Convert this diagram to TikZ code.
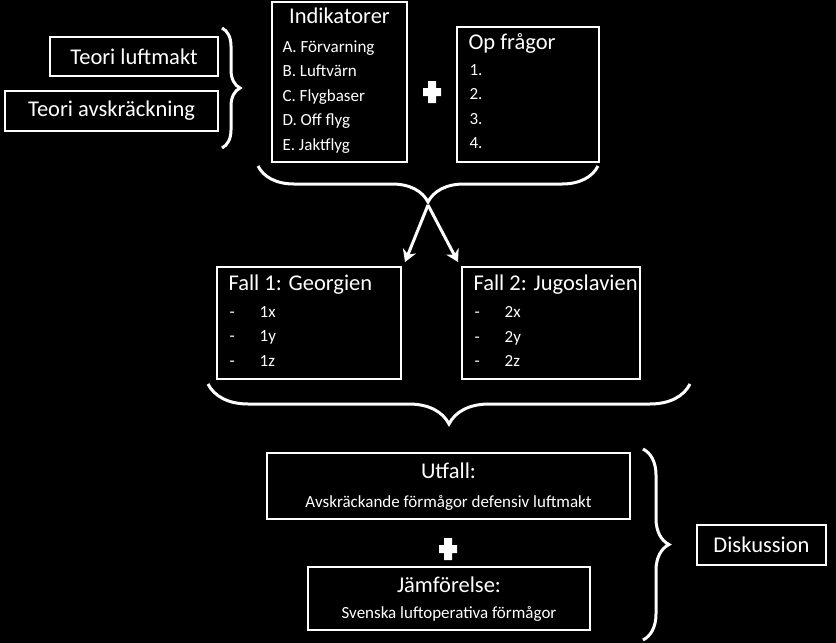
\documentclass[tikz,border=0pt]{standalone}
\usepackage{fontspec}
\setmainfont{Carlito}
\usetikzlibrary{decorations.pathreplacing,arrows.meta}
\begin{document}
\begin{tikzpicture}[x=1pt,y=-1pt,
  box/.style={draw=white,line width=1.6pt,fill=black,text=white},
  br/.style={draw=white,line width=3pt,decorate},
  big/.style={font=\fontsize{22.5}{26}\selectfont},
  sm/.style={font=\fontsize{17}{24.5}\selectfont},
  plus/.style={fill=white,draw=none}]
\fill[black] (0,0) rectangle (836,643);
\useasboundingbox (0,0) rectangle (836,643);
\node[box,big,minimum width=168pt,minimum height=39pt] (tl) at (134,56.5) {Teori luftmakt};
\node[box,big,minimum width=213pt,minimum height=40pt] (ta) at (111.5,111) {Teori avskräckning};
\draw[br,decoration={brace,amplitude=18pt}] (222,28) -- (222,148);
\node[box,minimum width=135pt,minimum height=160pt] (ind) at (339.5,82) {};
\node[big,text=white,anchor=north] (indt) at (339.5,4) {Indikatorer};
\node[sm,text=white,anchor=north west,align=left] (indl) at (279,37) {A. Förvarning\\B. Luftvärn\\C. Flygbaser\\D. Off flyg\\E. Jaktflyg};
\fill[white] (423,88) rectangle (441,96) (428,81) rectangle (436,103);
\node[box,minimum width=142pt,minimum height=135pt] (op) at (528,94.5) {};
\node[big,text=white,anchor=north west] (opt) at (465,30) {Op frågor};
\node[sm,text=white,anchor=north west,align=left] (opl) at (466,61) {1.\\2.\\3.\\4.};
\draw[br,decoration={brace,amplitude=36pt}] (598,166) -- (258,166);
\coordinate (t1) at (428,205);
\draw[white,line width=3pt,-{Stealth[length=12pt,width=14pt]}] (t1) -- (405,262);
\draw[white,line width=3pt,-{Stealth[length=12pt,width=14pt]}] (t1) -- (458,262);
\node[box,minimum width=184pt,minimum height=112pt] (f1) at (309,323) {};
\node[big,text=white,anchor=north west] (f1t) at (225,271) {Fall 1: Georgien};
\node[sm,text=white,anchor=north west,align=left] (f1l) at (226,303) {-\hspace{25pt}1x\\-\hspace{25pt}1y\\-\hspace{25pt}1z};
\node[box,minimum width=178pt,minimum height=112pt] (f2) at (551,323) {};
\node[big,text=white,anchor=north west] (f2t) at (470,271) {Fall 2: Jugoslavien};
\node[sm,text=white,anchor=north west,align=left] (f2l) at (471,303) {-\hspace{25pt}2x\\-\hspace{25pt}2y\\-\hspace{25pt}2z};
\draw[br,decoration={brace,amplitude=40pt}] (690,384) -- (208,384);
\node[box,minimum width=363pt,minimum height=66pt] (ut) at (448.5,486) {};
\node[big,text=white] (utt) at (448.5,471) {Utfall:};
\node[sm,text=white] (utl) at (448.5,503) {Avskräckande förmågor defensiv luftmakt};
\fill[white] (439,545) rectangle (457,553) (444,538) rectangle (452,560);
\node[box,minimum width=282pt,minimum height=63pt] (jm) at (449,598.5) {};
\node[big,text=white] (jmt) at (449,585) {Jämförelse:};
\node[sm,text=white] (jml) at (449,614) {Svenska luftoperativa förmågor};
\draw[br,decoration={brace,amplitude=26pt}] (643,449) -- (643,640);
\node[box,big,minimum width=129pt,minimum height=40pt] (dk) at (761.5,545) {Diskussion};
\end{tikzpicture}
\end{document}
